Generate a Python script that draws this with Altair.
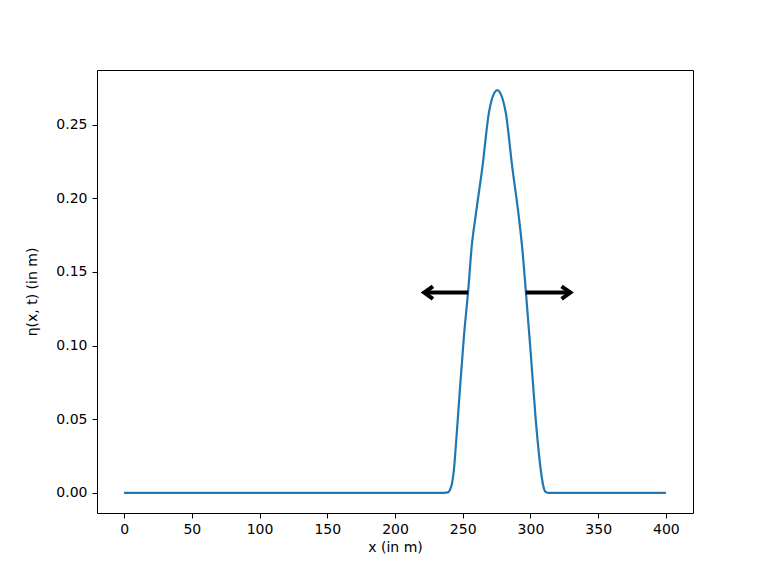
import altair as alt
import pandas as pd

# wave profile eta(x, t)
x_vals = [0, 100, 200, 236, 239, 240.5, 242, 243.5, 245, 247.2, 250.9, 254.1, 256.6, 259.5,
          264.5, 269.4, 271.5, 273.5, 275.5, 277.5, 279.5, 281.7, 286.6, 291.6, 294.0,
          296.5, 300.2, 303.9, 307.6, 309.4, 311.0, 313.0, 320, 400]
eta_vals = [0, 0, 0, 0, 0.0003, 0.002, 0.006, 0.0157, 0.033, 0.061, 0.1065, 0.138, 0.167, 0.188,
            0.221, 0.2586, 0.2673, 0.2719, 0.2735, 0.2719, 0.2673, 0.2586, 0.221, 0.186, 0.1655,
            0.138, 0.095, 0.0497, 0.0157, 0.005, 0.0008, 0, 0, 0]

# propagation arrows
arrow_dir = ["left", "right"]
arrow_tail = [254.1, 296.5]
arrow_tip = [221.5, 329.5]
arrow_y = [0.136, 0.136]

x_ticks = [0, 50, 100, 150, 200, 250, 300, 350, 400]
y_ticks = [0.00, 0.05, 0.10, 0.15, 0.20, 0.25]

wave = pd.DataFrame({"x": x_vals, "eta": eta_vals})
arrows = pd.DataFrame({"dir": arrow_dir, "tail": arrow_tail, "tip": arrow_tip, "y": arrow_y})

xscale = alt.Scale(domain=[-20, 420], nice=False, zero=False)
yscale = alt.Scale(domain=[-0.01368, 0.28718], nice=False, zero=False)

line = alt.Chart(wave).mark_line(color="#1f77b4", strokeWidth=2.2, interpolate="monotone").encode(
    x=alt.X("x:Q", scale=xscale,
            axis=alt.Axis(title="x (in m)", values=x_ticks, format="d", labelPadding=4,
                          titlePadding=4)),
    y=alt.Y("eta:Q", scale=yscale,
            axis=alt.Axis(title="η(x, t) (in m)", values=y_ticks, format=".2f", labelPadding=5,
                          titlePadding=16)),
)

shafts = alt.Chart(arrows).mark_rule(color="black", strokeWidth=4).encode(
    x=alt.X("tail:Q", scale=xscale),
    x2="tip:Q",
    y=alt.Y("y:Q", scale=yscale),
)

heads = alt.Chart(arrows).mark_point(filled=False, color="black", strokeWidth=4,
                                     strokeJoin="miter", size=160, opacity=1).encode(
    x=alt.X("tip:Q", scale=xscale),
    y=alt.Y("y:Q", scale=yscale),
    shape=alt.Shape("dir:N", scale=alt.Scale(domain=["left", "right"],
                                             range=["M1.4,-1L0,0L1.4,1", "M-1.4,-1L0,0L-1.4,1"]),
                    legend=None),
)

chart = (line + shafts + heads).properties(
    width=596, height=443,
    autosize=alt.AutoSizeParams(type="none"),
    padding={"left": 89, "top": 62, "right": 60, "bottom": 50},
).configure_view(stroke="black", strokeWidth=1).configure_axis(
    grid=False, domain=False, tickColor="black", tickSize=5, tickWidth=1,
    labelFont="DejaVu Sans", labelFontSize=14, labelColor="black",
    titleFont="DejaVu Sans", titleFontSize=14, titleFontWeight="normal", titleColor="black",
)

chart.save("out.html", embed_options={"renderer": "svg", "actions": False})
